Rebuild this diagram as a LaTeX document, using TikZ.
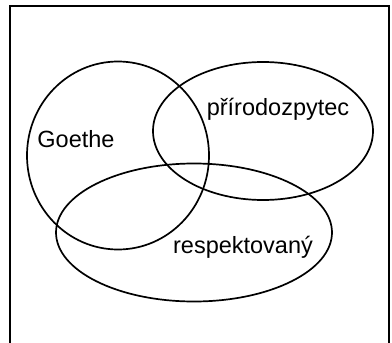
\documentclass[tikz,border=0pt]{standalone}
\usepackage{fontspec}
\setmainfont{Liberation Sans}
\begin{document}
\begin{tikzpicture}[x=1pt,y=-1pt,
  venn/.style={draw=black,line width=1.7pt},
  lbl/.style={anchor=base,inner sep=0pt,font=\fontsize{23.5}{28}\selectfont}]
\useasboundingbox (0,0) rectangle (392,343);
\clip (0,0) rectangle (392,343);
\draw[line width=1.6pt] (10,6) rectangle (389,360);
\draw[venn] (118,155.5) ellipse [x radius=91,y radius=94];
\draw[venn] (263,131) ellipse [x radius=110,y radius=69];
\draw[venn] (194,232.5) ellipse [x radius=138,y radius=69];
\node[lbl] (g) at (76,147) {Goethe};
\node[lbl] (p) at (278,115) {přírodozpytec};
\node[lbl] (r) at (243,253) {respektovaný};
\end{tikzpicture}
\end{document}
